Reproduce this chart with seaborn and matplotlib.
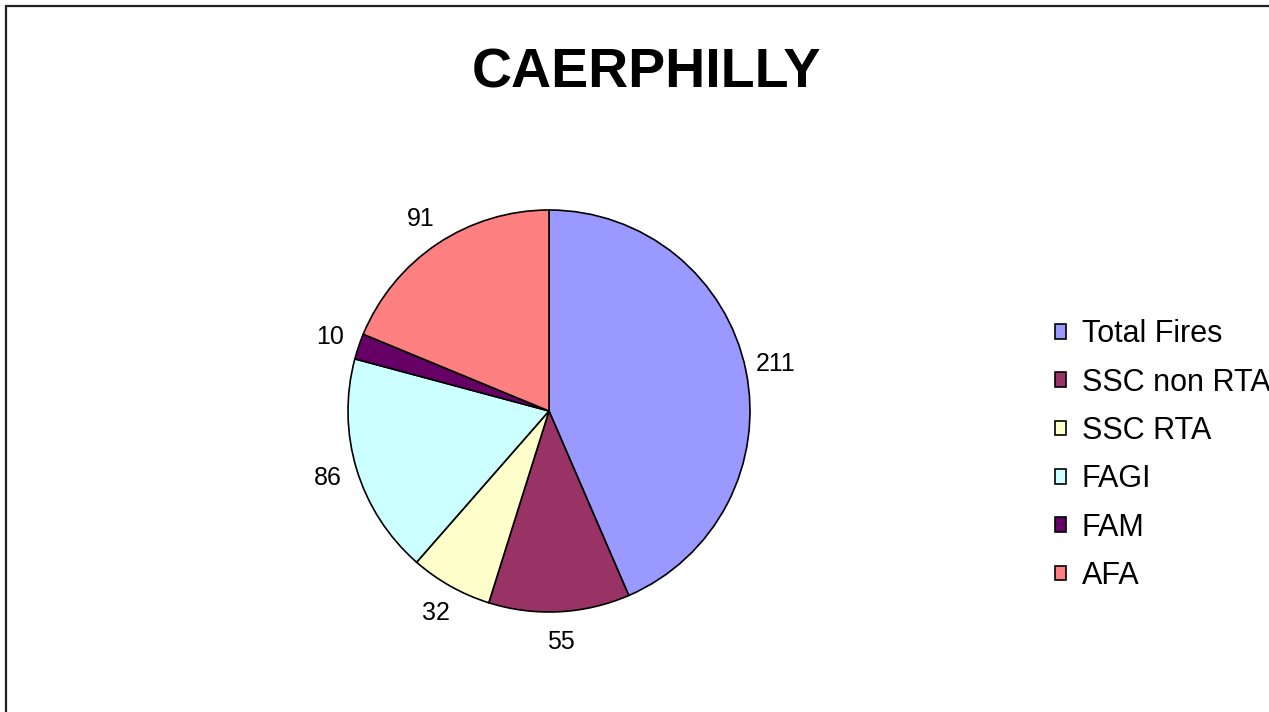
import numpy as np
import matplotlib
matplotlib.use("Agg")
import matplotlib.pyplot as plt
from matplotlib.patches import Rectangle
import seaborn as sns

# data
categories = ["Total Fires", "SSC non RTA", "SSC RTA", "FAGI", "FAM", "AFA"]
values = [211, 55, 32, 86, 10, 91]
colors = ["#9999FF", "#993366", "#FFFFCC", "#CCFFFF", "#660066", "#FF8080"]
title = "CAERPHILLY"

sns.set_theme(style="white")
plt.rcParams['font.family'] = ['Liberation Sans', 'DejaVu Sans']
plt.rcParams['text.color'] = 'black'

W, H = 1269, 712
fig = plt.figure(figsize=(W / 100, H / 100), dpi=100)

# pie axes: centre (549, 411) px, radius ~201 px
cx, cy, r = 549, 411, 201
ax = fig.add_axes([(cx - r) / W, (H - cy - r) / H, 2 * r / W, 2 * r / H])
wedges, texts = ax.pie(
    values, colors=colors, startangle=90, counterclock=False,
    labels=[str(v) for v in values], labeldistance=1.15,
    wedgeprops=dict(edgecolor="black", linewidth=1.2),
    textprops=dict(fontsize=18, color="black"),
)
for t in texts:
    t.set_ha("center")
    t.set_va("center")
ax.set_xlim(-1, 1)
ax.set_ylim(-1, 1)
ax.set_aspect("equal")
ax.axis("off")

fig.text(647 / W, 1 - 73 / H, title, ha="center", va="center",
         fontsize=40, fontweight="bold", color="black")

# legend (the reference clips "SSC non RTA" at the right edge as well)
leg = fig.legend(wedges, categories, loc="upper left",
                 bbox_to_anchor=(1043 / W, 1 - 307 / H), frameon=False,
                 fontsize=22, handlelength=0.36, handleheight=0.36,
                 handletextpad=0.5, labelspacing=0.6, borderaxespad=0,
                 labelcolor="black")

# outer chart border (right/bottom edges fall outside the picture)
fig.patches.append(Rectangle((6.5 / W, -0.1), 1.2, 1.1 - 6.5 / H,
                             transform=fig.transFigure, fill=False,
                             lw=1.6, ec="#222222"))

fig.savefig("out.png", dpi=100)
